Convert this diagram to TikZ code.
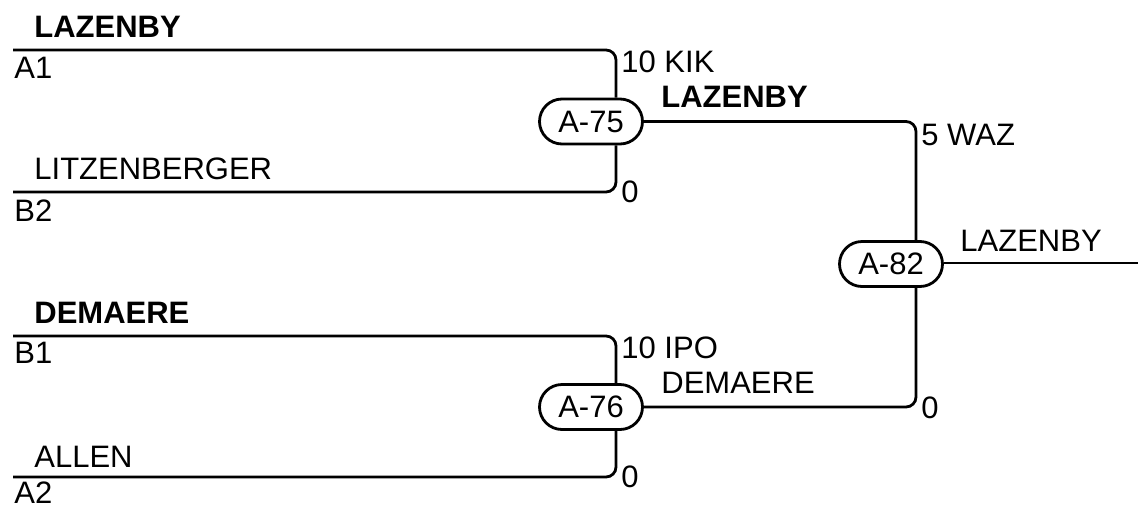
\documentclass[tikz,border=0pt]{standalone}
\usepackage{fontspec}
\setmainfont{Liberation Sans}
\usetikzlibrary{shapes.misc}
\begin{document}
\begin{tikzpicture}[x=1pt,y=-1pt, line width=2.8pt,
  match/.style={rounded rectangle, draw, minimum width=103pt, minimum height=45pt, inner sep=0pt, font=\fontsize{31}{36}\selectfont},
  lbl/.style={anchor=base west, inner sep=0pt, font=\fontsize{31}{36}\selectfont},
  blbl/.style={anchor=base west, inner sep=0pt, font=\fontsize{31}{36}\selectfont\bfseries},
  conn/.style={rounded corners=10pt}]
\useasboundingbox (0,0) rectangle (1138,504);
% matches
\node[match] (A75) at (591,121.5) {A-75};
\node[match] (A82) at (891,264) {A-82};
\node[match] (A76) at (591,407) {A-76};
% coordinates
\coordinate (A1s) at (13,50);
\coordinate (B2s) at (13,192);
\coordinate (B1s) at (13,336);
\coordinate (A2s) at (13,477);
\coordinate (v1) at (616,0);
\coordinate (v2) at (916,0);
\coordinate (fin) at (1138,263);
% connectors
\draw[conn] (A1s) -| (A75.north -| v1);
\draw[conn] (B2s) -| (A75.south -| v1);
\draw[conn] (B1s) -| (A76.north -| v1);
\draw[conn] (A2s) -| (A76.south -| v1);
\draw[conn] (A75.east) -| (A82.north -| v2);
\draw[conn] (A76.east) -| (A82.south -| v2);
\draw (A82.east |- fin) -- (fin);
% labels
\node[blbl] (t1) at (33,37) {LAZENBY};
\node[lbl] (t2) at (13,78) {A1};
\node[lbl] (t3) at (33,179) {LITZENBERGER};
\node[lbl] (t4) at (13,221) {B2};
\node[blbl] (t5) at (33,323) {DEMAERE};
\node[lbl] (t6) at (13,363) {B1};
\node[lbl] (t7) at (33,467) {ALLEN};
\node[lbl] (t8) at (13,503) {A2};
\node[lbl] (t9) at (620,72) {10 KIK};
\node[blbl] (t10) at (660,107) {LAZENBY};
\node[lbl] (t11) at (620,202) {0};
\node[lbl] (t12) at (620,358) {10 IPO};
\node[lbl] (t13) at (660,393) {DEMAERE};
\node[lbl] (t14) at (620,487) {0};
\node[lbl] (t15) at (920,145) {5 WAZ};
\node[lbl] (t16) at (920,418) {0};
\node[lbl] (t17) at (959,251) {LAZENBY};
\end{tikzpicture}
\end{document}
